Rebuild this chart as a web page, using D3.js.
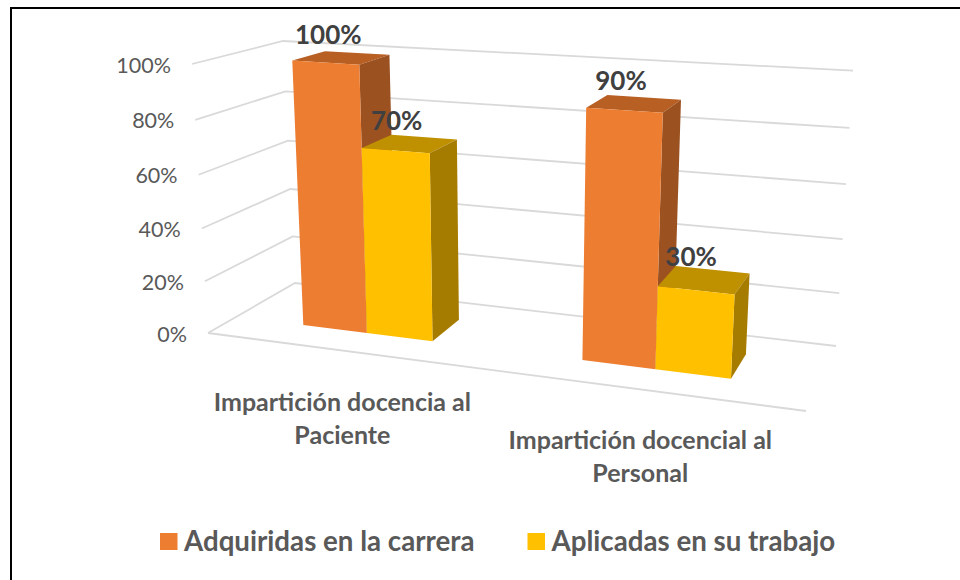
<!DOCTYPE html>
<html>
<head>
<meta charset="utf-8">
<script src="https://cdn.jsdelivr.net/npm/d3@7"></script>
<style>
  html, body { margin: 0; padding: 0; background: #fff; }
  svg { display: block; font-family: Lato, sans-serif; }
</style>
</head>
<body>
<div id="chart"></div>
<script>
const categories = [['Impartición docencia al', 'Paciente'], ['Impartición docencial al', 'Personal']];
const seriesNames = ['Adquiridas en la carrera', 'Aplicadas en su trabajo'];
const adquiridas = [100, 90];
const aplicadas = [70, 30];
const ticks = [0, 20, 40, 60, 80, 100];

const seriesValues = [adquiridas, aplicadas];
const faceColors = [
  { front: '#ED7D31', top: '#B85F23', side: '#9C5120' },
  { front: '#FFC000', top: '#BF9000', side: '#A67C00' },
];

const width = 960;
const height = 580;

const svg = d3.select('#chart').append('svg')
  .attr('width', width)
  .attr('height', height);

// outer frame of the pasted chart, only top and left show in the crop
svg.append('path')
  .attr('d', d3.line()([[11, height], [11, 8], [width, 8]]))
  .attr('fill', 'none')
  .attr('stroke', '#000')
  .attr('stroke-width', 2);

// the eight screen corners of the 3d plot box: [floor, top of axis]
const box = {
  frontLeft: [[208, 333], [192, 64]],
  backLeft: [[295, 283], [283, 41]],
  backRight: [[836, 346], [853, 70.7]],
  frontRight: [[806, 411], [823, 104]],
};

// foreshortening along an axis, k is how much the near end is stretched
const foreshorten = k => t => t / (t + k * (1 - t));
const xPersp = foreshorten(1.15);
const yPersp = foreshorten(1.05);

const xScale = d3.scaleBand()
  .domain(d3.range(categories.length))
  .range([0, 1])
  .paddingInner(0.52)
  .paddingOuter(0.26);
const seriesScale = d3.scaleBand()
  .domain(d3.range(seriesNames.length))
  .range([0, xScale.bandwidth()]);
const yScale = d3.scaleLinear().domain([0, 100]).range([0, 1]);
const barDepth = [0.33, 0.72];

function project(u, depth, value) {
  const s = xPersp(u);
  const v = yPersp(yScale(value));
  const mix = (a, b, t) => a + (b - a) * t;
  const corner = (c, i) => mix(c[0][i], c[1][i], v);
  return [0, 1].map((i) => {
    const front = mix(corner(box.frontLeft, i), corner(box.frontRight, i), s);
    const back = mix(corner(box.backLeft, i), corner(box.backRight, i), s);
    return mix(front, back, depth);
  });
}

const line = d3.line();
const polygon = pts => `${line(pts)}Z`;

// walls and floor
const gridColor = '#D9D9D9';
const grid = svg.append('g')
  .attr('fill', 'none')
  .attr('stroke', gridColor)
  .attr('stroke-width', 1.8);
ticks.forEach((t) => {
  grid.append('path').attr('d', line([project(0, 0, t), project(0, 1, t), project(1, 1, t)]));
});
grid.append('path').attr('d', line([project(0, 0, 0), project(1, 0, 0)]));

svg.append('g')
  .selectAll('text')
  .data(ticks)
  .enter()
  .append('text')
  .attr('x', d => project(0, 0, d)[0] - 21)
  .attr('y', d => project(0, 0, d)[1] + 1)
  .attr('dy', '0.35em')
  .attr('text-anchor', 'end')
  .attr('fill', '#595959')
  .style('font-size', '21.5px')
  .text(d => `${d}%`);

// bars, flattened to one list per category and series
const bars = [];
categories.forEach((c, ci) => {
  seriesValues.forEach((values, si) => {
    bars.push({ ci, si, value: values[ci] });
  });
});

const barGroups = svg.append('g')
  .selectAll('g')
  .data(bars)
  .enter()
  .append('g');

function corners(d) {
  const u0 = xScale(d.ci) + seriesScale(d.si);
  const u1 = u0 + seriesScale.bandwidth();
  const [d0, d1] = barDepth;
  return { u0, u1, d0, d1 };
}

barGroups.append('path')
  .attr('fill', d => faceColors[d.si].top)
  .attr('d', (d) => {
    const c = corners(d);
    return polygon([
      project(c.u0, c.d0, d.value), project(c.u1, c.d0, d.value),
      project(c.u1, c.d1, d.value), project(c.u0, c.d1, d.value),
    ]);
  });
barGroups.append('path')
  .attr('fill', d => faceColors[d.si].side)
  .attr('d', (d) => {
    const c = corners(d);
    return polygon([
      project(c.u1, c.d0, 0), project(c.u1, c.d1, 0),
      project(c.u1, c.d1, d.value), project(c.u1, c.d0, d.value),
    ]);
  });
barGroups.append('path')
  .attr('fill', d => faceColors[d.si].front)
  .attr('d', (d) => {
    const c = corners(d);
    return polygon([
      project(c.u0, c.d0, 0), project(c.u1, c.d0, 0),
      project(c.u1, c.d0, d.value), project(c.u0, c.d0, d.value),
    ]);
  });

// data labels sit above the middle of each bar top
svg.append('g')
  .selectAll('text')
  .data(bars)
  .enter()
  .append('text')
  .attr('x', (d) => {
    const c = corners(d);
    return project((c.u0 + c.u1) / 2, (c.d0 + c.d1) / 2, d.value)[0] - 13;
  })
  .attr('y', (d) => {
    const c = corners(d);
    return project((c.u0 + c.u1) / 2, (c.d0 + c.d1) / 2, d.value)[1] - 23;
  })
  .attr('dy', '0.35em')
  .attr('text-anchor', 'middle')
  .attr('fill', '#404040')
  .style('font-size', '26px')
  .style('font-weight', 'bold')
  .text(d => `${d.value}%`);

// category labels hang under the front edge of the floor
const catLabels = svg.append('g')
  .selectAll('text')
  .data(categories)
  .enter()
  .append('text')
  .attr('text-anchor', 'middle')
  .attr('fill', '#595959')
  .style('font-size', '25px')
  .style('font-weight', 'bold');
catLabels.selectAll('tspan')
  .data((d, i) => d.map((t, j) => ({ t, i, j })))
  .enter()
  .append('tspan')
  .attr('x', d => project(xScale(d.i) + xScale.bandwidth() / 2, 0, 0)[0])
  .attr('y', d => project(xScale(d.i) + xScale.bandwidth() / 2, 0, 0)[1] + 60 + d.j * 33)
  .text(d => d.t);

// legend
const legendX = [160, 527.5];
const legend = svg.append('g')
  .selectAll('g')
  .data(seriesNames)
  .enter()
  .append('g')
  .attr('transform', (d, i) => `translate(${legendX[i]}, 533)`);
legend.append('rect')
  .attr('width', 17.5)
  .attr('height', 17)
  .attr('fill', (d, i) => faceColors[i].front);
legend.append('text')
  .attr('x', 24)
  .attr('y', 8)
  .attr('dy', '0.35em')
  .attr('fill', '#595959')
  .style('font-size', '27.7px')
  .style('font-weight', 'bold')
  .text(d => d);
</script>
</body>
</html>
